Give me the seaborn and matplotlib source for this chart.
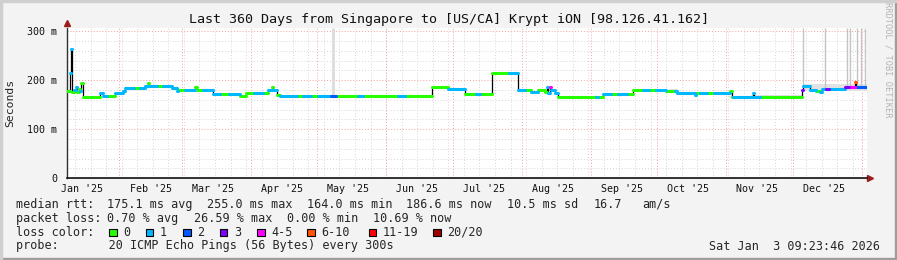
import numpy as np
import pandas as pd
import matplotlib
matplotlib.use("Agg")
import matplotlib.pyplot as plt
from matplotlib.patches import Rectangle
import seaborn as sns

# ---- data ----
# x axis: days since 2025-01-08 09:23:46 (360 day window)
start = pd.Timestamp("2025-01-08 09:23:46")
span_days = 360

# median rtt as steps: day where each step starts, rtt in ms, loss colour index
seg_day = [0.0, 1.2, 1.6, 2.3, 3.0, 4.0, 4.6, 5.2, 5.7, 6.2, 7.3, 14.9, 16.2, 18.0,
           21.6, 25.2, 26.1, 30.0, 33.0, 35.1, 36.5, 37.0, 40.4, 43.0, 47.1, 49.4,
           50.0, 53.0, 57.6, 58.4, 61.0, 65.7, 69.0, 73.0, 77.9, 80.6, 84.0, 88.0,
           90.5, 92.2, 92.7, 94.5, 95.9, 103.4, 106.0, 110.0, 113.0, 119.0, 121.0,
           131.0, 133.0, 149.0, 152.0, 164.3, 171.5, 179.1, 184.0, 186.0, 191.1,
           199.0, 203.1, 206.0, 209.0, 212.0, 215.0, 215.9, 216.5, 217.4, 218.0,
           219.8, 221.1, 238.0, 239.0, 241.1, 245.0, 248.0, 252.0, 254.6, 255.5,
           259.0, 262.0, 265.0, 269.5, 273.5, 274.5, 282.5, 283.2, 285.0, 288.0,
           291.0, 298.4, 299.2, 299.7, 308.7, 309.3, 312.0, 330.8, 331.2, 334.4,
           337.0, 338.9, 339.8, 341.5, 343.0, 350.1, 352.0, 354.6, 355.1, 355.7]
seg_rtt = [178, 215, 264, 177, 180, 187, 177, 183, 178, 194, 166, 174, 168, 168,
           174, 179, 185, 185, 185, 189, 195, 189, 188, 188, 184, 178,
           180, 180, 186, 180, 180, 172, 172, 172, 168, 173, 173, 173,
           180, 187, 180, 170, 168.5, 168.5, 168.5, 168.5, 168.5, 168.5, 168.5,
           168.5, 168.5, 167, 168.5, 186, 181.6, 171.4, 171.4, 171.4, 215,
           215, 180, 180, 176, 180, 176, 187, 174, 187, 180,
           173, 166.5, 166.5, 166.5, 172, 172, 172, 172, 181, 180,
           180, 180, 180, 178, 178, 174, 170, 173.5, 173.5, 173.5,
           173.5, 178, 166, 165.3, 173, 165, 165, 180, 188, 181,
           178, 176, 182, 182, 182, 186, 187, 197, 187, 187]
seg_loss = [0, 1, 1, 0, 1, 1, 0, 0, 1, 0, 0, 1, 1, 0,
            1, 1, 1, 0, 1, 1, 0, 1, 0, 1, 1, 1,
            0, 1, 0, 0, 1, 1, 0, 1, 0, 0, 1, 0,
            1, 0, 1, 0, 1, 0, 1, 0, 1, 2, 0,
            1, 0, 1, 0, 0, 1, 0, 1, 0, 0,
            1, 1, 0, 1, 0, 0, 1, 1, 4, 1,
            1, 0, 1, 0, 1, 0, 1, 0, 0, 0,
            1, 0, 1, 0, 1, 1, 1, 0, 1, 0,
            1, 0, 0, 1, 1, 1, 0, 3, 1, 1,
            0, 1, 1, 3, 1, 3, 4, 5, 1, 2]

# smoke: tall grey spikes (day, bottom ms, top ms)
spike_day = [119.9, 331.0, 341.1, 350.9, 352.4, 355.3, 357.3, 359.1]
spike_low = [168, 190, 184, 187, 187, 190, 187, 187]
spike_high = [307, 307, 307, 307, 307, 307, 307, 307]
spike_width = [2.2, 1.0, 1.0, 1.0, 1.0, 1.0, 1.0, 1.0]

# smoke bands (start day, end day, low ms, high ms)
band_start = [271.0, 298.0, 308.0, 331.0]
band_end = [275.0, 308.0, 331.0, 360.0]
band_low = [174, 164, 164, 179]
band_high = [183, 168, 170, 192]

loss_labels = ["0", "1", "2", "3", "4-5", "6-10", "11-19", "20/20"]
loss_colors = ["#26ff00", "#00b8ff", "#0059ff", "#7e00ff", "#ff00ff", "#ff5500", "#ff0000", "#a10000"]

month_names = ["Jan '25", "Feb '25", "Mar '25", "Apr '25", "May '25", "Jun '25",
               "Jul '25", "Aug '25", "Sep '25", "Oct '25", "Nov '25", "Dec '25"]

title = "Last 360 Days from Singapore to [US/CA] Krypt iON [98.126.41.162]"
rtt_items = ["median rtt:", "175.1 ms avg", "255.0 ms max", "164.0 ms min",
             "186.6 ms now", "10.5 ms sd", "16.7", "am/s"]
loss_items = ["packet loss:", "0.70 % avg", "26.59 % max", "0.00 % min", "10.69 % now"]
probe_line = "probe:       20 ICMP Echo Pings (56 Bytes) every 300s"
stamp = "Sat Jan  3 09:23:46 2026"

# ---- figure ----
sns.set_style("white")
plt.rcParams["font.family"] = ["DejaVu Sans Mono"]
W, H = 897, 260
mono = "DejaVu Sans Mono"

fig = plt.figure(figsize=(W / 100, H / 100), dpi=100, facecolor="#f3f3f3")
ax = fig.add_axes([67 / W, (H - 178.3) / H, 800 / W, 150 / H])
ax.set_facecolor("white")
ax.set_xlim(0, span_days)
ax.set_ylim(0, 306)


def fx(x):
    return x / W


def fy(y):
    return 1 - y / H


# grid
days = lambda ts: (ts - start) / pd.Timedelta(days=1)
weeks = [days(t) for t in pd.date_range("2025-01-12", "2026-01-03", freq="7D")]
months = [days(t) for t in pd.date_range("2025-02-01", "2026-01-01", freq="MS")]
mids = [days(pd.Timestamp(2025, m, 15)) for m in range(1, 13)]

grid_kw = dict(linestyle=(0, (1, 2)), linewidth=0.7, zorder=1)
for d in weeks:
    ax.axvline(d, color="#d6d6d6", **grid_kw)
for v in range(20, 300, 20):
    if v % 100:
        ax.axhline(v, color="#d6d6d6", **grid_kw)
for d in months:
    ax.axvline(d, color="#f2a0a0", **grid_kw)
for v in (100, 200, 300):
    ax.axhline(v, color="#f2a0a0", **grid_kw)

# smoke
for s, e, lo, hi in zip(band_start, band_end, band_low, band_high):
    ax.fill_between([s, e], lo, hi, color="#e2e2e2", lw=0, zorder=2)
for d, lo, hi, w in zip(spike_day, spike_low, spike_high, spike_width):
    ax.vlines(d, lo, hi, color="#c4c4c4" if w < 2 else "#dedede", lw=w, zorder=2)

# median line: black steps beneath, loss coloured segments on top
seg_end = seg_day[1:] + [span_days]
step_df = pd.DataFrame({"t": seg_day + [span_days], "rtt": seg_rtt + [seg_rtt[-1]]})
sns.lineplot(data=step_df, x="t", y="rtt", color="black", linewidth=0.9,
             drawstyle="steps-post", sort=False, ax=ax, zorder=3)

rows = []
for i, (s, e, r, l) in enumerate(zip(seg_day, seg_end, seg_rtt, seg_loss)):
    rows.append({"t": s, "rtt": r, "loss": loss_labels[l], "seg": i})
    rows.append({"t": e, "rtt": r, "loss": loss_labels[l], "seg": i})
seg_df = pd.DataFrame(rows)
sns.lineplot(data=seg_df, x="t", y="rtt", hue="loss", units="seg", estimator=None,
             palette=dict(zip(loss_labels, loss_colors)), linewidth=2.2,
             legend=False, ax=ax, zorder=4)
ax.set_xlabel("")
ax.set_ylabel("")

# axes
for side in ("top", "right"):
    ax.spines[side].set_visible(False)
ax.spines["left"].set_color("#303030")
ax.spines["bottom"].set_color("#101010")
ax.spines["left"].set_linewidth(1.0)
ax.spines["bottom"].set_linewidth(1.2)
ax.plot([0], [1.035], marker="^", color="#9b1c1c", ms=4.5, transform=ax.transAxes, clip_on=False)
ax.plot([1.004], [0], marker=">", color="#9b1c1c", ms=4.5, transform=ax.transAxes, clip_on=False)

ax.set_yticks([0, 100, 200, 300])
ax.set_yticklabels(["0", "100 m", "200 m", "300 m"])
ax.set_xticks(mids)
ax.set_xticklabels(month_names)
ax.tick_params(axis="both", length=0, labelsize=7.2, colors="#111111")
ax.tick_params(axis="y", pad=7)
ax.tick_params(axis="x", pad=4)
for t in ax.get_xticklabels() + ax.get_yticklabels():
    t.set_family(mono)

# text
fig.text(0.5, fy(19), title, ha="center", va="center", fontsize=9.6, family=mono, color="#111111")
fig.text(fx(10), fy(103), "Seconds", rotation=90, ha="center", va="center", fontsize=8.2, family=mono)
fig.text(fx(888), fy(60), "RRDTOOL / TOBI OETIKER", rotation=270, ha="center", va="center",
         fontsize=6.2, family=mono, color="#b4b4b4")

fs = 8.5
rtt_x = [16, 107, 207, 307.3, 406, 507.3, 594, 642.7]
loss_x = [16, 107, 193.5, 286.7, 372.7]
for x, s in zip(rtt_x, rtt_items):
    fig.text(fx(x), fy(204.3), s, ha="left", va="center", fontsize=fs, family=mono)
for x, s in zip(loss_x, loss_items):
    fig.text(fx(x), fy(218.3), s, ha="left", va="center", fontsize=fs, family=mono)
fig.text(fx(16), fy(232.3), "loss color:", ha="left", va="center", fontsize=fs, family=mono)
fig.text(fx(16), fy(246), probe_line, ha="left", va="center", fontsize=fs, family=mono)
fig.text(fx(880), fy(246), stamp, ha="right", va="center", fontsize=fs, family=mono)

box_x = [109, 145.7, 183, 219.7, 257, 307, 368.7, 433.3]
for bx, lab, col in zip(box_x, loss_labels, loss_colors):
    fig.patches.append(Rectangle((fx(bx), fy(236)), 7.5 / W, 7.5 / H, transform=fig.transFigure,
                                 facecolor=col, edgecolor="black", lw=0.8, figure=fig))
    fig.text(fx(bx + 14), fy(232.3), lab, ha="left", va="center", fontsize=fs, family=mono)

# 3d border
fig.patches.append(Rectangle((0, 0), 1, 2 / H, transform=fig.transFigure, color="#9e9e9e", figure=fig))
fig.patches.append(Rectangle((1 - 2 / W, 0), 2 / W, 1, transform=fig.transFigure, color="#9e9e9e", figure=fig))
fig.patches.append(Rectangle((0, 1 - 2 / H), 1, 2 / H, transform=fig.transFigure, color="#cfcfcf", figure=fig))
fig.patches.append(Rectangle((0, 0), 2 / W, 1, transform=fig.transFigure, color="#cfcfcf", figure=fig))

fig.savefig("out.png", dpi=100, facecolor=fig.get_facecolor())
